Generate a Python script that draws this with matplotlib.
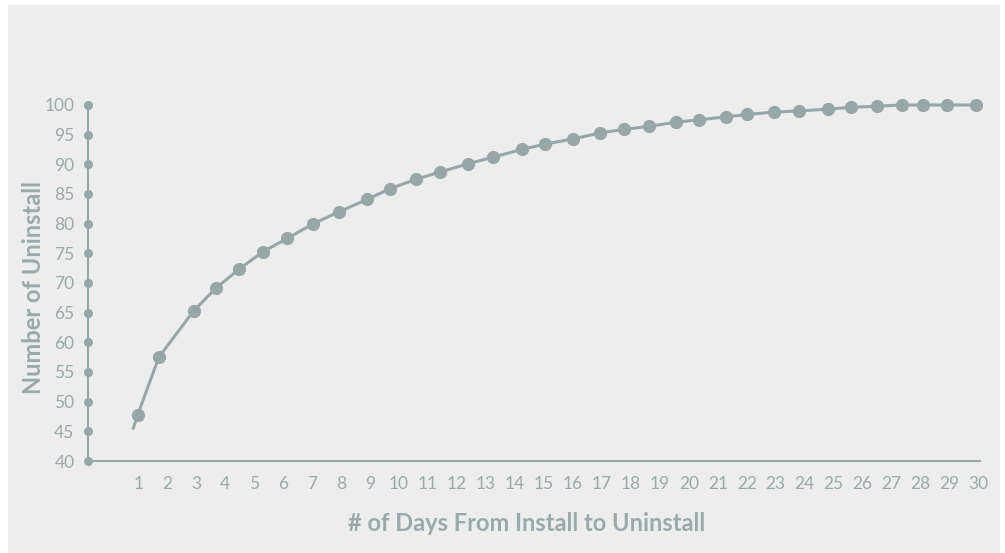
import matplotlib
matplotlib.use("Agg")
import matplotlib.pyplot as plt
from matplotlib.patches import Rectangle

# day positions of the plotted points and uninstall counts
days = [0.98, 1.71, 2.91, 3.67, 4.47, 5.31, 6.14, 7.04, 7.93, 8.90, 9.69,
        10.60, 11.41, 12.38, 13.24, 14.23, 15.03, 16.02, 16.95, 17.78, 18.63,
        19.55, 20.35, 21.28, 22.02, 22.93, 23.80, 24.80, 25.59, 26.50, 27.36,
        28.08, 28.91, 29.92]
uninstalls = [47.8, 57.5, 65.3, 69.1, 72.3, 75.3, 77.5, 80.0, 82.0, 84.1, 85.9,
              87.5, 88.7, 90.1, 91.2, 92.5, 93.4, 94.3, 95.3, 95.9, 96.4,
              97.1, 97.5, 98.0, 98.4, 98.8, 99.0, 99.3, 99.6, 99.8, 100.0,
              100.0, 100.0, 100.0]
# the curve starts a little before the first marker
line_start = (0.81, 45.3)

day_ticks = list(range(1, 31))
y_ticks = list(range(40, 101, 5))

GREY = "#97a7a8"
TEXT = "#9aa9aa"
BG = "#ededed"
FONT = ["Lato", "DejaVu Sans"]

fig = plt.figure(figsize=(10.05, 5.53), dpi=100)
fig.patch.set_facecolor("white")
fig.patches.append(Rectangle((8 / 1005, 0), 992 / 1005, 548 / 553,
                             transform=fig.transFigure, facecolor=BG,
                             edgecolor="none", zorder=-10))

ax = fig.add_axes([88.3 / 1005, 1 - 461 / 553, (980 - 88.3) / 1005, (461 - 105) / 553])
ax.set_facecolor("none")
ax.set_xlim(-0.726, 30.05)
ax.set_ylim(40, 100)

ax.plot([line_start[0]] + days, [line_start[1]] + uninstalls, color=GREY,
        linewidth=2.2, solid_capstyle="butt", clip_on=False, zorder=3)
ax.plot(days, uninstalls, linestyle="none", marker="o", markersize=8.5,
        color=GREY, clip_on=False, zorder=4)

# axis dots on the y axis
ax.plot([ax.get_xlim()[0]] * len(y_ticks), y_ticks, linestyle="none",
        marker="o", markersize=5.5, color=GREY, clip_on=False, zorder=5)

for side in ["top", "right"]:
    ax.spines[side].set_visible(False)
for side in ["left", "bottom"]:
    ax.spines[side].set_color(GREY)
    ax.spines[side].set_linewidth(1.5)

ax.set_yticks(y_ticks)
ax.set_xticks(day_ticks)
ax.tick_params(axis="both", length=0, colors=TEXT, labelsize=12.5)
ax.tick_params(axis="y", pad=10)
ax.tick_params(axis="x", pad=11)
for lab in ax.get_xticklabels() + ax.get_yticklabels():
    lab.set_family(FONT)
    lab.set_color(TEXT)

ax.set_xlabel("# of Days From Install to Uninstall", fontsize=17,
              fontweight="bold", color=TEXT, family=FONT)
ax.set_ylabel("Number of Uninstall", fontsize=17, fontweight="bold",
              color=TEXT, family=FONT)
ax.xaxis.set_label_coords(0.4914, -0.142)
ax.yaxis.set_label_coords(-0.049, 0.486)

fig.savefig("out.png", dpi=100)
